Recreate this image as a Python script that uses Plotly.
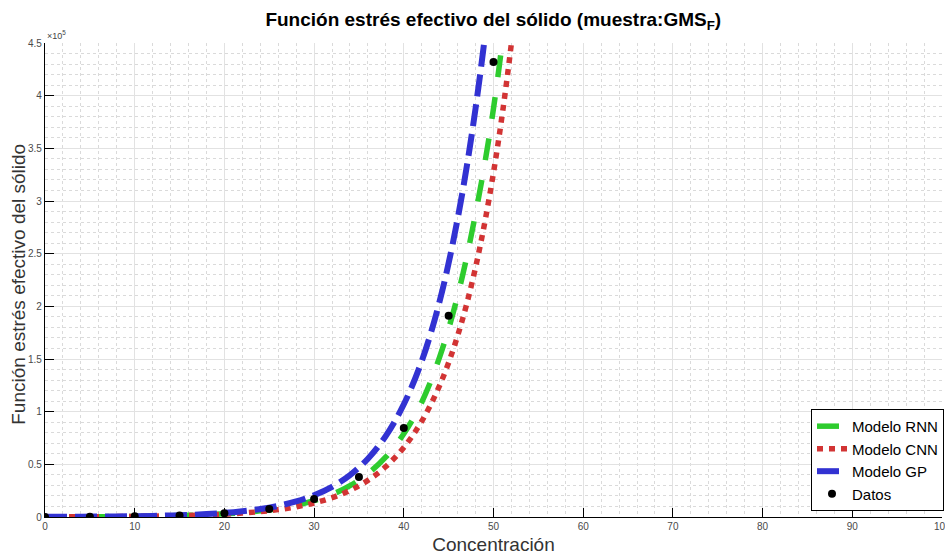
import plotly.graph_objects as go

# Concentración axis samples for the model curves
x_model = [0, 2, 4, 6, 8, 10, 12, 14, 16, 18, 20, 22, 24, 26, 28, 30,
           32, 34, 36, 38, 40, 42, 44, 46, 48, 50, 52, 54]

# Model outputs (units of 1e5)
rnn = [0.0012, 0.0016, 0.0022, 0.0031, 0.0043, 0.0059, 0.0082, 0.0114, 0.0158, 0.022,
       0.030, 0.042, 0.058, 0.081, 0.112, 0.155, 0.214, 0.297, 0.412, 0.570,
       0.79, 1.09, 1.52, 2.10, 2.88, 3.88, 5.30, 7.40]
cnn = [0.0011, 0.0015, 0.0021, 0.0028, 0.0039, 0.0054, 0.0075, 0.0103, 0.0142, 0.0195,
       0.027, 0.037, 0.051, 0.070, 0.097, 0.133, 0.183, 0.253, 0.348, 0.479,
       0.66, 0.909, 1.25, 1.72, 2.37, 3.27, 4.50, 6.20]
gp = [0.0014, 0.0020, 0.0028, 0.0039, 0.0054, 0.0076, 0.0105, 0.0147, 0.020, 0.028,
      0.039, 0.055, 0.076, 0.106, 0.148, 0.206, 0.286, 0.398, 0.553, 0.77,
      1.07, 1.48, 2.05, 2.83, 3.88, 5.30, 7.30, 10.1]

# Measured data
x_data = [0, 5, 10, 15, 20, 25, 30, 35, 40, 45, 50]
y_data = [0.0, 0.002, 0.006, 0.015, 0.035, 0.075, 0.17, 0.38, 0.845, 1.91, 4.32]

SCALE = 1e5
y_ticks = [0, 0.5, 1, 1.5, 2, 2.5, 3, 3.5, 4, 4.5]
y_tick_text = ["0", "0.5", "1", "1.5", "2", "2.5", "3", "3.5", "4", "4.5"]
x_ticks = [0, 10, 20, 30, 40, 50, 60, 70, 80, 90, 100]

FONT = "Liberation Sans, Arial, Helvetica, sans-serif"
TICK_FONT = dict(size=10, color="#4a4a4a", family=FONT)

fig = go.Figure()

fig.add_trace(go.Scatter(
    x=x_model, y=[v * SCALE for v in rnn], mode="lines", name="Modelo RNN",
    line=dict(color="#2ecc2e", width=5.5, dash="22px,20px", shape="spline"),
))
fig.add_trace(go.Scatter(
    x=x_model, y=[v * SCALE for v in cnn], mode="lines", name="Modelo CNN",
    line=dict(color="#d23434", width=5.5, dash="6px,6px", shape="spline"),
))
fig.add_trace(go.Scatter(
    x=x_model, y=[v * SCALE for v in gp], mode="lines", name="Modelo GP",
    line=dict(color="#3232d2", width=6, dash="22px,8px", shape="spline"),
))
fig.add_trace(go.Scatter(
    x=x_data, y=[v * SCALE for v in y_data], mode="markers", name="Datos",
    marker=dict(color="black", size=8, symbol="circle"),
))

axis_common = dict(
    showline=True, linecolor="black", linewidth=1.3,
    ticks="inside", ticklen=9, tickcolor="black", tickwidth=1.3,
    showgrid=True, gridcolor="#e2e2e2", gridwidth=1,
    tickfont=TICK_FONT,
    zeroline=False, mirror=False, automargin=False,
)

fig.update_xaxes(
    range=[0, 100], tickvals=x_ticks, ticktext=[str(t) for t in x_ticks],
    title=dict(text="Concentración", font=dict(size=19, color="#333333", family=FONT),
               standoff=8),
    minor=dict(dtick=2, showgrid=True, gridcolor="#dadada", griddash="dot",
               gridwidth=1, ticks=""),
    **axis_common,
)
fig.update_yaxes(
    range=[0, 4.5 * SCALE], tickvals=[t * SCALE for t in y_ticks], ticktext=y_tick_text,
    minor=dict(dtick=0.1 * SCALE, showgrid=True, gridcolor="#dadada", griddash="dot",
               gridwidth=1, ticks=""),
    **axis_common,
)

fig.update_layout(
    width=945, height=555,
    margin=dict(l=45, r=2, t=43, b=38),
    paper_bgcolor="white", plot_bgcolor="white",
    font=dict(family=FONT),
    title=dict(
        text="<b>Función estrés efectivo del sólido (muestra:GMS<sub>F</sub>)</b>",
        x=0.522, xanchor="center", y=0.978, yanchor="top",
        font=dict(size=19, color="black", family=FONT),
    ),
    legend=dict(
        x=0.853, xanchor="left", y=0.228, yanchor="top",
        bgcolor="white", bordercolor="black", borderwidth=1,
        font=dict(size=15, color="black", family=FONT),
        itemwidth=30, tracegroupgap=0,
    ),
    annotations=[
        dict(
            text="×10<sup>5</sup>", xref="paper", yref="paper", x=0.0, y=1.0,
            xanchor="left", yanchor="bottom", showarrow=False,
            font=dict(size=9, color="#444444", family=FONT),
        ),
        dict(
            text="Función estrés efectivo del sólido", xref="paper", yref="paper",
            x=0.0, xshift=-26, y=0.49, xanchor="center", yanchor="middle",
            textangle=-90, showarrow=False,
            font=dict(size=19, color="#333333", family=FONT),
        ),
        # last x tick label, which runs past the right edge of the page
        dict(
            text=str(x_ticks[-1]), xref="x", yref="paper", x=x_ticks[-1], y=0,
            xanchor="center", yanchor="top", yshift=-2, showarrow=False,
            font=TICK_FONT,
        ),
    ],
)

fig.write_html("out.html")
